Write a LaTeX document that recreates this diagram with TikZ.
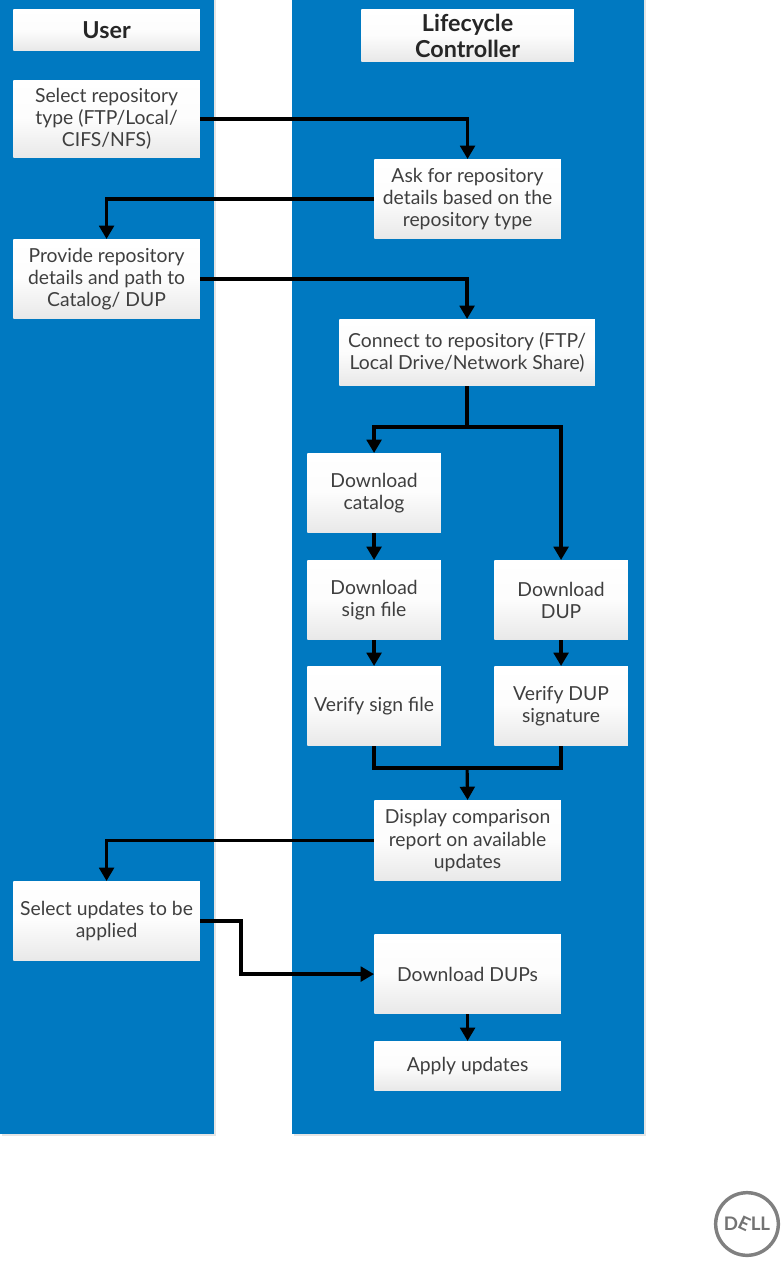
\documentclass[tikz,border=0pt]{standalone}
\usepackage{fontspec}
\setmainfont{Lato}
\usetikzlibrary{arrows.meta,positioning,calc}
\definecolor{dellblue}{HTML}{0079C1}
\definecolor{txt}{HTML}{3F3F3F}
\tikzset{
 panel/.style={fill=dellblue,draw=none},
 pshadow/.style={fill=black!10,draw=none},
 box/.style={rectangle,inner sep=0pt,top color=white,bottom color=black!9,middle color=black!1,
   align=center,text=txt,font=\fontsize{14.5}{16.6}\selectfont,anchor=north west},
 head/.style={box,text=black!85,font=\fontsize{17.5}{19.5}\selectfont\bfseries},
 conn/.style={line width=2.4pt,black,-{Triangle[length=10pt,width=11pt]}},
 seg/.style={line width=2.4pt,black}
}
\newcommand{\bx}[7][box]{\node[#1,minimum width=#5*0.75pt-#3*0.75pt-0.3pt,minimum height=#6*0.75pt-#4*0.75pt-0.3pt] (#2) at (#3,#4) {#7};}
\begin{document}
\begin{tikzpicture}[x=0.75pt,y=-0.75pt]
\useasboundingbox (0,0) rectangle (784,1261);
\fill[pshadow] (2,0) rectangle (216,1136);
\fill[pshadow] (294,0) rectangle (646,1136);
\fill[panel] (0,0) rectangle (214,1134);
\fill[panel] (292,0) rectangle (644,1134);
\bx[head]{user}{13}{9}{200}{51}{User}
\bx[head]{lc}{361}{9}{574}{62}{Lifecycle\\Controller}
\bx{sel}{13}{80}{200}{158}{Select repository\\type (FTP/Local/\\CIFS/NFS)}
\bx{ask}{374}{159}{561}{239}{Ask for repository\\details based on the\\repository type}
\bx{prov}{13}{239}{200}{319}{Provide repository\\details and path to\\Catalog/ DUP}
\bx{con}{339}{319}{595}{386}{Connect to repository (FTP/\\Local Drive/Network Share)}
\bx{cat}{307}{453}{441}{533}{Download\\catalog}
\bx{sign}{307}{560}{441}{640}{Download\\sign file}
\bx{vsign}{307}{666}{441}{746}{Verify sign file}
\bx{dup}{494}{560}{628}{640}{Download\\DUP}
\bx{vdup}{494}{666}{628}{746}{Verify DUP\\signature}
\bx{disp}{374}{800}{561}{881}{Display comparison\\report on available\\updates}
\bx{selu}{13}{881}{200}{961}{Select updates to be\\applied}
\bx{dups}{374}{934}{561}{1014}{Download DUPs}
\bx{app}{374}{1041}{561}{1091}{Apply updates}
\coordinate (split) at (con.south |- 0,427);
\coordinate (merge) at (con.south |- 0,768);
\coordinate (bend) at (241,0);
\draw[conn] (sel.east) -| (ask.north);
\draw[conn] (ask.west) -| (prov.north);
\draw[conn] (prov.east) -| (con.north);
\draw[seg] (con.south) -- (split);
\draw[conn] (split) -| (cat.north);
\draw[conn] (split) -| (dup.north);
\draw[conn] (cat) -- (sign);
\draw[conn] (sign) -- (vsign);
\draw[conn] (dup) -- (vdup);
\draw[seg] (vsign.south) |- (merge);
\draw[seg] (vdup.south) |- (merge);
\draw[conn] (merge) -- (disp.north);
\draw[conn] (disp.west) -| (selu.north);
\draw[conn] (selu.east) -| (bend |- dups.west) -- (dups.west);
\draw[conn] (dups) -- (app);
% Dell logo
\node[circle,draw=black!50,line width=2.6pt,minimum size=47pt,inner sep=0pt] (logo) at (747,1224) {};
\node[text=black!55,font=\fontsize{14}{14}\selectfont\bfseries] (dell) at (logo.center) {D\kern-1pt\rotatebox[origin=c]{-25}{E}\kern-1pt LL};
\end{tikzpicture}
\end{document}
